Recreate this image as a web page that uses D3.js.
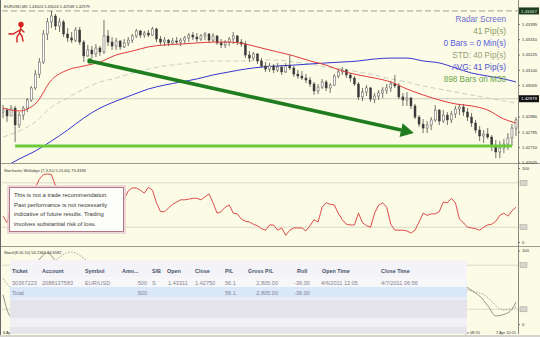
<!DOCTYPE html>
<html>
<head>
<meta charset="utf-8">
<script src="https://cdn.jsdelivr.net/npm/d3@7"></script>
<style>
  body { margin: 0; background: #fbfbe6; overflow: hidden; }
  text { font-family: "Liberation Sans", Arial, sans-serif; }
</style>
</head>
<body>
<svg id="chart" width="540" height="337"></svg>
<script>
// EURUSD M5 candles: [open, high, low, close]
const candles = [
  [1.42905,1.42944,1.42872,1.42916],[1.42916,1.42927,1.42850,1.42883],[1.42883,1.42944,1.42883,1.42927],
  [1.42927,1.42939,1.42738,1.42833],[1.42833,1.42905,1.42816,1.42888],[1.42888,1.42939,1.42861,1.42927],
  [1.42927,1.42983,1.42905,1.42972],[1.42972,1.43050,1.42961,1.43039],[1.43039,1.43139,1.43027,1.43116],
  [1.43116,1.43205,1.43094,1.43183],[1.43183,1.43361,1.43172,1.43339],[1.43339,1.43428,1.43305,1.43406],
  [1.43406,1.43467,1.43372,1.43439],[1.43439,1.43450,1.43361,1.43383],[1.43383,1.43428,1.43350,1.43406],
  [1.43406,1.43417,1.43322,1.43339],[1.43339,1.43372,1.43294,1.43317],[1.43317,1.43350,1.43289,1.43305],
  [1.43305,1.43378,1.43294,1.43361],[1.43361,1.43378,1.43278,1.43294],[1.43294,1.43305,1.43183,1.43217],
  [1.43217,1.43278,1.43211,1.43250],[1.43250,1.43272,1.43205,1.43228],[1.43228,1.43283,1.43211,1.43261],
  [1.43261,1.43272,1.43217,1.43239],[1.43239,1.43417,1.43228,1.43328],[1.43328,1.43361,1.43272,1.43294],
  [1.43294,1.43322,1.43250,1.43272],[1.43272,1.43317,1.43250,1.43300],[1.43300,1.43305,1.43250,1.43267],
  [1.43267,1.43311,1.43261,1.43289],[1.43289,1.43322,1.43272,1.43305],[1.43305,1.43339,1.43289,1.43328],
  [1.43328,1.43367,1.43317,1.43356],[1.43356,1.43361,1.43317,1.43333],[1.43333,1.43356,1.43317,1.43344],
  [1.43344,1.43361,1.43322,1.43333],[1.43333,1.43378,1.43328,1.43367],[1.43367,1.43372,1.43294,1.43311],
  [1.43311,1.43328,1.43278,1.43294],[1.43294,1.43322,1.43272,1.43305],[1.43305,1.43311,1.43272,1.43289],
  [1.43289,1.43317,1.43278,1.43300],[1.43300,1.43322,1.43283,1.43294],[1.43294,1.43317,1.43272,1.43305],
  [1.43305,1.43328,1.43283,1.43317],[1.43317,1.43344,1.43294,1.43333],[1.43333,1.43350,1.43305,1.43322],
  [1.43322,1.43344,1.43294,1.43311],[1.43311,1.43339,1.43300,1.43328],[1.43328,1.43350,1.43305,1.43339],
  [1.43339,1.43344,1.43289,1.43305],[1.43305,1.43344,1.43294,1.43328],[1.43328,1.43333,1.43278,1.43289],
  [1.43289,1.43311,1.43261,1.43278],[1.43278,1.43305,1.43261,1.43294],[1.43294,1.43322,1.43272,1.43311],
  [1.43311,1.43350,1.43283,1.43328],[1.43328,1.43333,1.43278,1.43294],[1.43294,1.43311,1.43267,1.43283],
  [1.43283,1.43300,1.43205,1.43222],[1.43222,1.43244,1.43183,1.43205],[1.43205,1.43239,1.43194,1.43228],
  [1.43228,1.43233,1.43172,1.43189],[1.43189,1.43205,1.43150,1.43161],[1.43161,1.43183,1.43128,1.43144],
  [1.43144,1.43178,1.43128,1.43161],[1.43161,1.43172,1.43122,1.43139],[1.43139,1.43178,1.43128,1.43155],
  [1.43155,1.43166,1.43111,1.43128],[1.43128,1.43178,1.43122,1.43161],[1.43161,1.43222,1.43139,1.43150],
  [1.43150,1.43161,1.43100,1.43116],[1.43116,1.43139,1.43089,1.43105],[1.43105,1.43133,1.43083,1.43094],
  [1.43094,1.43116,1.43066,1.43083],[1.43083,1.43100,1.43044,1.43061],[1.43061,1.43072,1.43000,1.43022],
  [1.43022,1.43061,1.43005,1.43044],[1.43044,1.43089,1.43033,1.43072],[1.43072,1.43083,1.43022,1.43039],
  [1.43039,1.43066,1.43011,1.43055],[1.43055,1.43116,1.43050,1.43105],[1.43105,1.43144,1.43094,1.43128],
  [1.43128,1.43155,1.43111,1.43139],[1.43139,1.43144,1.43094,1.43111],[1.43111,1.43122,1.43072,1.43094],
  [1.43094,1.43105,1.43050,1.43061],[1.43061,1.43072,1.42972,1.42989],[1.42989,1.43039,1.42966,1.43016],
  [1.43016,1.43055,1.42994,1.43039],[1.43039,1.43044,1.42961,1.42977],[1.42977,1.43011,1.42955,1.42994],
  [1.42994,1.43027,1.42972,1.43011],[1.43011,1.43044,1.42983,1.43027],[1.43027,1.43061,1.43005,1.43039],
  [1.43039,1.43078,1.43016,1.43061],[1.43061,1.43111,1.43039,1.43050],[1.43050,1.43066,1.42977,1.42989],
  [1.42989,1.43011,1.42939,1.42972],[1.42972,1.43016,1.42939,1.42983],[1.42983,1.42989,1.42922,1.42939],
  [1.42939,1.42950,1.42866,1.42877],[1.42877,1.42888,1.42822,1.42838],[1.42838,1.42866,1.42788,1.42816],
  [1.42816,1.42855,1.42788,1.42833],[1.42833,1.42877,1.42805,1.42861],[1.42861,1.42944,1.42850,1.42916],
  [1.42916,1.42922,1.42833,1.42855],[1.42855,1.42916,1.42844,1.42888],[1.42888,1.42905,1.42833,1.42861],
  [1.42861,1.42911,1.42844,1.42894],[1.42894,1.42939,1.42872,1.42922],[1.42922,1.42950,1.42888,1.42933],
  [1.42933,1.42950,1.42883,1.42905],[1.42905,1.42927,1.42855,1.42877],[1.42877,1.42900,1.42822,1.42844],
  [1.42844,1.42861,1.42788,1.42805],[1.42805,1.42827,1.42744,1.42772],[1.42772,1.42805,1.42733,1.42783],
  [1.42783,1.42816,1.42755,1.42766],[1.42766,1.42777,1.42688,1.42716],[1.42716,1.42749,1.42649,1.42683],
  [1.42683,1.42744,1.42649,1.42705],[1.42705,1.42755,1.42677,1.42727],[1.42727,1.42788,1.42694,1.42761],
  [1.42761,1.42838,1.42716,1.42816],[1.42816,1.42877,1.42772,1.42861]
];

// moving averages, read every 4 bars
const maBars = [0,4,8,12,16,20,24,28,32,36,40,44,48,52,56,60,64,68,72,76,80,84,88,92,96,100,104,108,112,116,120,124,127];
const maRed  = [1.42927,1.42911,1.42950,1.43083,1.43139,1.43161,1.43183,1.43222,1.43244,1.43267,1.43278,1.43283,1.43289,1.43294,1.43294,1.43283,1.43261,1.43239,1.43217,1.43189,1.43166,1.43133,1.43111,1.43094,1.43072,1.43033,1.43000,1.42972,1.42950,1.42939,1.42916,1.42866,1.42844];
const maBlue = [1.42594,1.42644,1.42688,1.42744,1.42805,1.42872,1.42927,1.42966,1.43000,1.43033,1.43055,1.43072,1.43089,1.43111,1.43128,1.43144,1.43155,1.43161,1.43166,1.43172,1.43178,1.43183,1.43189,1.43200,1.43205,1.43205,1.43189,1.43178,1.43150,1.43122,1.43105,1.43089,1.43072];
const maGrey = [1.42766,1.42800,1.42850,1.42933,1.42983,1.43033,1.43072,1.43094,1.43122,1.43144,1.43161,1.43172,1.43183,1.43189,1.43189,1.43189,1.43194,1.43194,1.43183,1.43172,1.43155,1.43144,1.43128,1.43111,1.43089,1.43072,1.43050,1.43033,1.43016,1.43000,1.42983,1.42966,1.42955];

// Stochastic Wallabys, one value per bar
const stochWallabys = [35,26,50,58,62,66,70,72,73,85,91,92,91,76,70,55,40,35,55,40,18,25,22,30,28,60,50,45,52,48,
  58,69,73,73,70,66,74,70,53,41,41,46,51,54,57,57,58,59,59,57,61,65,53,39,41,47,50,39,38,31,
  28,27,24,22,18,16,23,23,16,19,9,16,19,19,19,15,22,30,27,47,53,51,50,39,30,24,23,23,39,26,
  22,20,39,50,53,47,24,16,16,16,15,12,16,27,39,36,38,38,41,54,53,59,53,31,26,20,19,18,16,20,
  23,24,28,36,39,35,42,47];

// Stoch(8,10,10): [bar, value]
const stochMain   = [[0,40],[2,10],[6,60],[9,88],[11,97],[13,86],[20,60],[40,50],[80,40],[110,60],[117,42],[118,38],[120,25],[122,11],[124,13],[126,20],[127,30]];
const stochSignal = [[0,62],[4,42],[10,72],[17,98],[21,86],[40,60],[80,45],[110,50],[116,45],[119,40],[124,19],[127,23]];

const priceTicks = [1.43395,1.43310,1.43225,1.43140,1.43055,1.42880,1.42795,1.42710,1.42625];
const topPrice = 1.43467;
const bidPrice = 1.42979;
const supportPrice = 1.42716;
const supportBars = [3,126];
const trendArrow = [[21.5,1.43189],[101.7,1.42789]];

const headerText = "EURUSD,M5  1.43024 1.43024 1.42948 1.42979";
const stochLabel = "Stochastic Wallabys (7,3,3,0.5,15,60) 73.4338";
const stoch2Label = "Stoch(8,10,10) 54.2344 34.6582";
const radarLines = ["Radar Screen","41 Pip(s)","0 Bars = 0 Min(s)","STD: 40 Pip(s)","AVG: 41 Pip(s)","898 Bars on M30"];
const radarColors = ["#6d6dd2","#8c9a62","#5a5ae0","#9a9c74","#4f4fd0","#6aa64a"];
const disclaimer = ["This is  not a trade recommendation.","Past performance is not necessarily","indicative of future results. Trading","involves substantial risk of loss."];
const timeLabels = [[0,"6 Apr"],[113,"7 Apr 08:55"],[122,"7 Apr 10:11"]];

const tableHeader = ["Ticket","Account","Symbol","Amo...","S/B","Open","Close","P/L","Gross P/L","Roll","Open Time","Close Time"];
const tableRows = [
  ["30367223","2088137583","EUR/USD","500","S","1.43311","1.42750","56.1","2,805.00","-36.00","4/6/2011 12:05","4/7/2011 06:56"],
  ["Total","","","500","","","","56.1","2,805.00","-36.00","",""]
];
// column layout
const headerX = [12,42,85,122,152,167,195,225,248,297,322,381];
const cellLayout = [[12,"start"],[42,"start"],[85,"start"],[147,"end"],[152,"start"],[168,"start"],[195,"start"],[225,"start"],[278,"end"],[310,"end"],[321,"start"],[381,"start"]];

const svg = d3.select("#chart");
const W = 540, H = 337;
const plotR = 518;

svg.append("rect").attr("width", W).attr("height", H).attr("fill", "#fbfbe6");

const x = d3.scaleLinear().domain([0, candles.length - 1]).range([3, 516]);
const y = d3.scaleLinear().domain([1.42625, 1.43395]).range([162.4, 23.9]);
const ys = d3.scaleLinear().domain([0, 100]).range([242, 168]);
const ys2 = d3.scaleLinear().domain([0, 100]).range([324, 250.5]);

svg.append("clipPath").attr("id", "mainClip").append("rect").attr("x", 2).attr("y", 0).attr("width", plotR - 2).attr("height", 163);
svg.append("clipPath").attr("id", "stClip").append("rect").attr("x", 2).attr("y", 165).attr("width", plotR - 2).attr("height", 81);
svg.append("clipPath").attr("id", "st2Clip").append("rect").attr("x", 2).attr("y", 248).attr("width", plotR - 2).attr("height", 86);

// ---------- main price panel ----------
const main = svg.append("g").attr("clip-path", "url(#mainClip)");

main.append("line").attr("x1", 2).attr("x2", plotR).attr("y1", y(topPrice)).attr("y2", y(topPrice))
  .attr("stroke", "#8a8a80").attr("stroke-dasharray", "6,3").attr("stroke-width", 0.8);
main.append("line").attr("x1", 2).attr("x2", plotR).attr("y1", y(bidPrice)).attr("y2", y(bidPrice))
  .attr("stroke", "#c4c4b8").attr("stroke-width", 0.8);

const maLine = d3.line().x((d, i) => x(maBars[i])).y(d => y(d)).curve(d3.curveMonotoneX);
main.append("path").attr("d", maLine(maGrey)).attr("fill", "none").attr("stroke", "#c6d2c0").attr("stroke-width", 1).attr("stroke-dasharray", "5,3");
main.append("path").attr("d", maLine(maBlue)).attr("fill", "none").attr("stroke", "#3535d0").attr("stroke-width", 1);

// candles
main.selectAll("line.wick").data(candles).join("line").attr("class", "wick")
  .attr("x1", (d, i) => x(i)).attr("x2", (d, i) => x(i))
  .attr("y1", d => y(d[1])).attr("y2", d => y(d[2]))
  .attr("stroke", "#3a3a3a").attr("stroke-width", 0.7);
main.selectAll("rect.body").data(candles).join("rect").attr("class", "body")
  .attr("x", (d, i) => x(i) - 1).attr("width", 2)
  .attr("y", d => y(Math.max(d[0], d[3])))
  .attr("height", d => Math.max(0.8, Math.abs(y(d[0]) - y(d[3]))))
  .attr("fill", d => d[3] >= d[0] ? "#ffffff" : "#3a3a3a")
  .attr("stroke", "#3a3a3a").attr("stroke-width", 0.45);

main.append("path").attr("d", maLine(maRed)).attr("fill", "none").attr("stroke", "#e03a3a").attr("stroke-width", 1);

// support level
main.append("line").attr("x1", x(supportBars[0])).attr("x2", x(supportBars[1]))
  .attr("y1", y(supportPrice)).attr("y2", y(supportPrice))
  .attr("stroke", "#6acb3a").attr("stroke-width", 3);

// trend arrow
const a0 = [x(trendArrow[0][0]), y(trendArrow[0][1])];
const a1 = [x(trendArrow[1][0]), y(trendArrow[1][1])];
const ang = Math.atan2(a1[1] - a0[1], a1[0] - a0[0]);
const headLen = 13, headW = 7;
const base = [a1[0] - headLen * Math.cos(ang), a1[1] - headLen * Math.sin(ang)];
main.append("line").attr("x1", a0[0]).attr("y1", a0[1]).attr("x2", base[0]).attr("y2", base[1])
  .attr("stroke", "#1f7d1f").attr("stroke-width", 3.5);
main.append("circle").attr("cx", a0[0]).attr("cy", a0[1]).attr("r", 2.6).attr("fill", "#1f7d1f");
main.append("polygon").attr("fill", "#1f7d1f").attr("points", [
  a1,
  [base[0] + headW * Math.sin(ang), base[1] - headW * Math.cos(ang)],
  [base[0] - headW * Math.sin(ang), base[1] + headW * Math.cos(ang)]
].map(p => p.join(",")).join(" "));

// logo
const logo = svg.append("g").attr("stroke", "#d42020").attr("stroke-width", 1.4).attr("fill", "none").attr("stroke-linecap", "round");
logo.append("circle").attr("cx", 21).attr("cy", 24.5).attr("r", 2).attr("fill", "#d42020");
logo.append("path").attr("d", "M21,27 L19.5,33 L22,36 L23,41 M19.5,33 L17,37 L17,42 M20.5,29 L24,32 M20,30 L13,34 L9,34");

// header
svg.append("text").attr("x", 4).attr("y", 7.5).attr("font-size", 4).attr("fill", "#333").text(headerText);

// radar screen info
svg.append("g").selectAll("text").data(radarLines).join("text")
  .attr("x", 506).attr("y", (d, i) => 22 + i * 12)
  .attr("text-anchor", "end").attr("font-size", 8.2)
  .attr("fill", (d, i) => radarColors[i]).text(d => d);

// ---------- stochastic panel ----------
const st = svg.append("g").attr("clip-path", "url(#stClip)");
[80, 20].forEach(v => st.append("line").attr("x1", 2).attr("x2", plotR).attr("y1", ys(v)).attr("y2", ys(v))
  .attr("stroke", "#cfcfc2").attr("stroke-width", 0.8));
st.append("path").attr("d", d3.line().x((d, i) => x(i)).y(d => ys(d))(stochWallabys))
  .attr("fill", "none").attr("stroke", "#d83a3a").attr("stroke-width", 0.9);
svg.append("text").attr("x", 4).attr("y", 172).attr("font-size", 4).attr("fill", "#333").text(stochLabel);

// disclaimer
svg.append("rect").attr("x", 8).attr("y", 186).attr("width", 117).attr("height", 47)
  .attr("fill", "none").attr("stroke", "#e9cdd4").attr("stroke-width", 1.5);
svg.append("rect").attr("x", 9.5).attr("y", 187.5).attr("width", 114).attr("height", 44)
  .attr("fill", "#fdfdf9").attr("stroke", "#a86878").attr("stroke-width", 0.9);
svg.append("g").selectAll("text").data(disclaimer).join("text")
  .attr("x", 14).attr("y", (d, i) => 197 + i * 9.7)
  .attr("font-size", 5.9).attr("fill", "#3c3c3c").text(d => d);

// ---------- stoch panel 2 ----------
const st2 = svg.append("g").attr("clip-path", "url(#st2Clip)");
[80, 20].forEach(v => st2.append("line").attr("x1", 2).attr("x2", plotR).attr("y1", ys2(v)).attr("y2", ys2(v))
  .attr("stroke", "#cfcfc2").attr("stroke-width", 0.8));
st2.append("path").attr("d", d3.line().x(d => x(d[0])).y(d => ys2(d[1])).curve(d3.curveMonotoneX)(stochMain))
  .attr("fill", "none").attr("stroke", "#7a7a72").attr("stroke-width", 0.8);
st2.append("path").attr("d", d3.line().x(d => x(d[0])).y(d => ys2(d[1])).curve(d3.curveMonotoneX)(stochSignal))
  .attr("fill", "none").attr("stroke", "#8a8a82").attr("stroke-width", 0.8).attr("stroke-dasharray", "1.5,1.5");
svg.append("text").attr("x", 4).attr("y", 254).attr("font-size", 4).attr("fill", "#333").text(stoch2Label);

// time labels
svg.append("g").selectAll("text").data(timeLabels).join("text")
  .attr("x", d => x(d[0])).attr("y", 334).attr("font-size", 4).attr("fill", "#333").text(d => d[1]);

// ---------- separators and axes ----------
[164, 247].forEach(v => {
  svg.append("line").attr("x1", 0).attr("x2", W).attr("y1", v - 0.5).attr("y2", v - 0.5).attr("stroke", "#9a9a90").attr("stroke-width", 1);
});
svg.append("line").attr("x1", plotR + 0.5).attr("x2", plotR + 0.5).attr("y1", 0).attr("y2", 334).attr("stroke", "#8a8a80");
svg.append("line").attr("x1", 0.5).attr("x2", 0.5).attr("y1", 0).attr("y2", H).attr("stroke", "#666");

const styleAxis = g => {
  g.select(".domain").remove();
  g.selectAll("line").attr("stroke", "#777");
  g.selectAll("text").attr("font-size", 4.2).attr("fill", "#333").attr("x", 4)
    .attr("font-family", "Liberation Sans, Arial, sans-serif");
};
svg.append("g").attr("transform", `translate(${plotR},0)`)
  .call(d3.axisRight(y).tickValues(priceTicks).tickSize(2).tickFormat(d3.format(".5f"))).call(styleAxis);
svg.append("g").attr("transform", `translate(${plotR},0)`)
  .call(d3.axisRight(ys).tickValues([0, 100]).tickSize(2).tickFormat(d3.format("d"))).call(styleAxis);
svg.append("g").attr("transform", `translate(${plotR},0)`)
  .call(d3.axisRight(ys2).tickValues([0, 100]).tickSize(2).tickFormat(d3.format("d"))).call(styleAxis);

// level markers
[[ys, 80], [ys, 20], [ys2, 80], [ys2, 20]].forEach(([s, v]) => {
  svg.append("rect").attr("x", 520).attr("y", s(v) - 2.5).attr("width", 7).attr("height", 5)
    .attr("fill", "#d6d6cc").attr("stroke", "#a0a096").attr("stroke-width", 0.5);
});

// price boxes
const priceBox = (p, fill, col) => {
  svg.append("rect").attr("x", 519).attr("y", y(p) - 3.5).attr("width", 20).attr("height", 7).attr("fill", fill);
  svg.append("text").attr("x", 521).attr("y", y(p) + 1.6).attr("font-size", 4.4).attr("fill", col)
    .text(d3.format(".5f")(p));
};
priceBox(topPrice, "#1f3d1f", "#cfe8cf");
priceBox(bidPrice, "#111111", "#ffffff");

// ---------- trade table ----------
const tbl = svg.append("g");
tbl.append("rect").attr("x", 10).attr("y", 260).attr("width", 457).attr("height", 74).attr("fill", "#ececf1");
tbl.append("rect").attr("x", 10).attr("y", 260).attr("width", 457).attr("height", 17).attr("fill", "#f4f4f8");
tbl.append("rect").attr("x", 10).attr("y", 277).attr("width", 457).attr("height", 10).attr("fill", "#f7f7fa");
tbl.append("rect").attr("x", 10).attr("y", 287).attr("width", 457).attr("height", 10).attr("fill", "#d9e7f8");
tbl.append("rect").attr("x", 10).attr("y", 297).attr("width", 457).attr("height", 3).attr("fill", "#e6edf7");
tbl.append("rect").attr("x", 10).attr("y", 300).attr("width", 457).attr("height", 18).attr("fill", "#e4e4ea");
tbl.append("rect").attr("x", 10).attr("y", 318).attr("width", 457).attr("height", 9).attr("fill", "#f1f1f5");
tbl.append("rect").attr("x", 10).attr("y", 327).attr("width", 457).attr("height", 7).attr("fill", "#e5e5eb");

tbl.selectAll("text.hd").data(tableHeader).join("text").attr("class", "hd")
  .attr("x", (d, i) => headerX[i]).attr("y", 273)
  .attr("font-size", 5.4).attr("font-weight", "bold").attr("fill", "#44506a").text(d => d);
tableRows.forEach((row, r) => {
  tbl.selectAll("text.r" + r).data(row).join("text").attr("class", "r" + r)
    .attr("x", (d, i) => cellLayout[i][0]).attr("text-anchor", (d, i) => cellLayout[i][1])
    .attr("y", 284.5 + r * 10)
    .attr("font-size", 5.6).attr("fill", "#858590").text(d => d);
});

// bottom strip
svg.append("rect").attr("x", 0).attr("y", 335).attr("width", W).attr("height", 2).attr("fill", "#d4d4cc");
</script>
</body>
</html>
